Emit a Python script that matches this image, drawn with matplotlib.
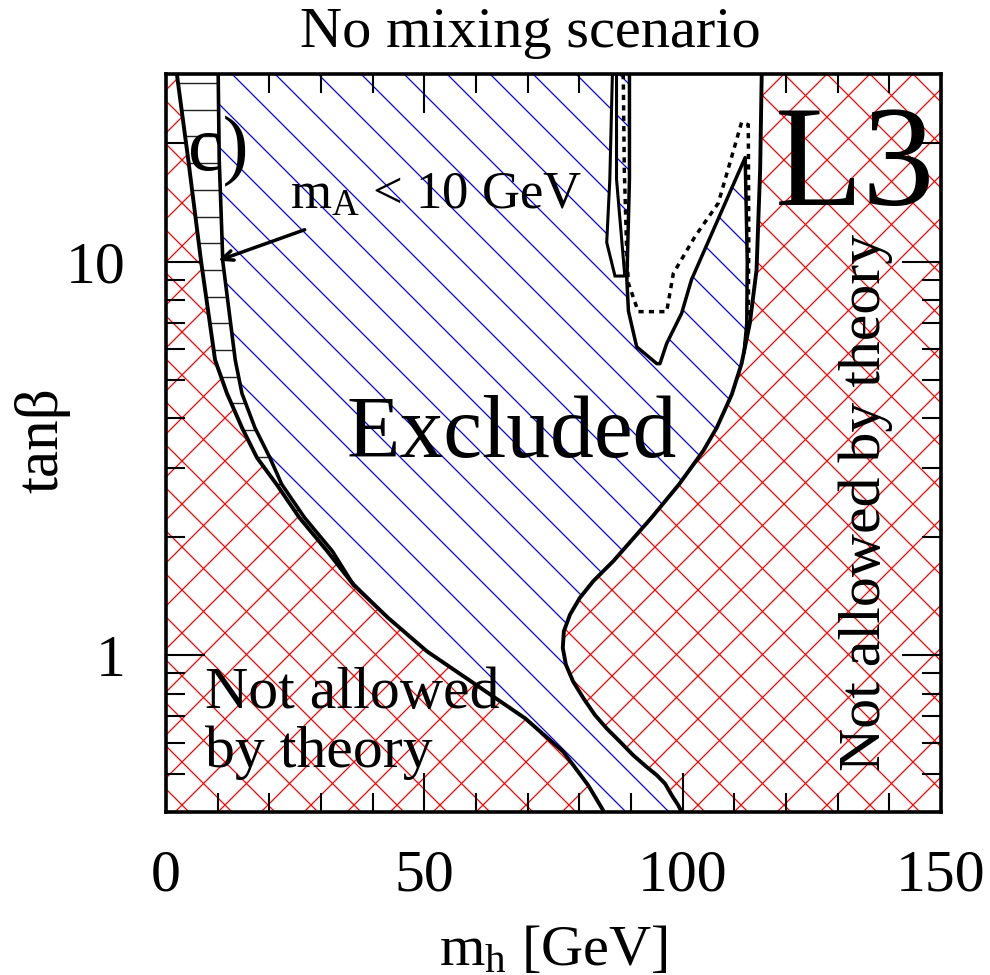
import numpy as np
import matplotlib
matplotlib.use('Agg')
import matplotlib.pyplot as plt
from matplotlib.collections import LineCollection
from matplotlib.patches import Polygon
from matplotlib.ticker import NullFormatter

plt.rcParams['font.family'] = ['Liberation Serif', 'DejaVu Serif']
plt.rcParams['mathtext.fontset'] = 'custom'
plt.rcParams['mathtext.rm'] = 'Liberation Serif'

# left theory boundary (outer edge of the m_A < 10 GeV band), m_h [GeV] vs tan(beta)
left_mh = [2.1, 4.3, 6.8, 9.5, 11.8, 14.7, 17.6, 21.4, 25.8, 31.2, 36.3,
           43.0, 50.5, 60.0, 69.5, 76.9, 81.7, 84.8]
left_tb = [30, 18.2, 10.0, 5.63, 4.63, 3.79, 3.18, 2.72, 2.24, 1.84, 1.51,
           1.245, 1.024, 0.842, 0.692, 0.569, 0.468, 0.4]

# inner edge of the m_A < 10 GeV band
band_mh = [10.1, 10.3, 11.0, 13.4, 14.7, 17.2, 20.1, 22.4, 26.8, 32.2, 36.3]
band_tb = [30, 18.2, 10.0, 5.63, 4.63, 3.79, 3.18, 2.72, 2.24, 1.84, 1.51]

# right theory boundary
right_mh = [99.8, 99.15, 97.9, 96.6, 95.0, 93.0, 90.4, 87.9, 85.3, 83.0, 80.8,
            78.8, 77.4, 76.8, 77.0, 78.2, 80.1, 82.7, 86.6, 94.0,
            99.3, 104.0, 106.6, 109.5, 111.4, 113.0, 114.3, 115.0, 115.3]
right_tb = [0.4, 0.416, 0.441, 0.472, 0.496, 0.521, 0.558, 0.603, 0.652, 0.706, 0.778,
            0.858, 0.947, 1.044, 1.151, 1.27, 1.40, 1.544, 1.737, 2.24,
            2.72, 3.31, 3.79, 4.6, 5.51, 6.98, 9.54, 17.2, 30]

# observed limit: edge of the allowed island at high tan(beta)
island_mh = [89.7, 89.7, 89.2, 89.5, 91.1, 95.0, 95.6, 96.9, 99.8, 101.7,
             112.1, 112.5, 112.4, 111.9]
island_tb = [30, 16.2, 9.0, 7.5, 6.08, 5.51, 5.51, 6.2, 7.4, 9.0,
             18.4, 10.0, 6.98, 5.9]

# narrow allowed finger left of the island
finger_mh = [86.4, 85.9, 85.3, 86.9, 88.8, 87.2, 87.2]
finger_tb = [30, 16.2, 11.2, 9.2, 9.2, 16.2, 30]

# expected limit (dashed)
dash_mh = [88.5, 88.7, 89.2, 89.5, 91.4, 96.9, 98.2, 102.4, 106.9, 111.4,
           112.7, 112.8, 112.7, 112.0]
dash_tb = [30, 17.2, 10.3, 8.82, 7.47, 7.47, 9.35, 11.6, 14.1, 22.6,
           22.3, 11.6, 6.98, 6.1]

x_ticks = [0, 50, 100, 150]
x_minor = np.arange(0, 151, 10)
y_ticks = [1, 10]
y_ticklabels = ['1', '10']
y_minor = [0.4, 0.5, 0.6, 0.7, 0.8, 0.9, 2, 3, 4, 5, 6, 7, 8, 9, 20, 30]

fig = plt.figure(figsize=(9.9, 9.75), dpi=100)
ax_pos = [166 / 990, 163 / 975, 775 / 990, 738 / 975]
ax = fig.add_axes(ax_pos)
ax.set_xlim(0, 150)
ax.set_yscale('log')
ax.set_ylim(0.4, 30)

ax_w = fig.get_figwidth() * fig.dpi * ax_pos[2]
ax_h = fig.get_figheight() * fig.dpi * ax_pos[3]


def hatch_lines(kind, spacing, offset):
    # line segments in axes fraction, spacing given in pixels
    segs = []
    if kind == '-':
        for y in np.arange(offset, ax_h, spacing):
            segs.append([(0, y / ax_h), (1, y / ax_h)])
    elif kind == '\\':
        for c in np.arange(offset, ax_w + ax_h, spacing):
            segs.append([(c / ax_w, 0), ((c - ax_h) / ax_w, 1)])
    else:
        start = offset - spacing * np.ceil((offset + ax_w) / spacing)
        for c in np.arange(start, ax_h, spacing):
            segs.append([(-c / ax_w, 0), ((ax_h - c) / ax_w, 1)])
    return segs


def add_hatch(poly, kind, spacing, offset, color, lw, z):
    lc = LineCollection(hatch_lines(kind, spacing, offset), colors=color,
                        linewidths=lw, transform=ax.transAxes, zorder=z)
    ax.add_collection(lc, autolim=False)
    lc.set_clip_path(poly)


top, bot = 40, 0.3
left_pts = list(zip(left_mh, left_tb))
band_pts = list(zip(band_mh, band_tb))
right_pts = list(zip(right_mh, right_tb))
merge_tb = band_tb[-1]

red_left = [(-5, bot), (-5, top), (left_mh[0], top)] + left_pts + [(left_mh[-1], bot)]
red_right = right_pts + [(right_mh[-1], top), (155, top), (155, bot), (right_mh[0], bot)]
allowed = ([(band_mh[0], top)] + band_pts + [p for p in left_pts if p[1] < merge_tb]
           + [(left_mh[-1], bot), (right_mh[0], bot)] + right_pts + [(right_mh[-1], top)])
band_poly = ([(left_mh[0], top)] + [p for p in left_pts if p[1] >= merge_tb]
             + band_pts[::-1] + [(band_mh[0], top)])
island_poly = (list(zip(island_mh, island_tb))
               + [p for p in right_pts if p[1] > island_tb[-1]]
               + [(right_mh[-1], top), (island_mh[0], top)])

# not allowed by theory: red cross hatch
for pts in (red_left, red_right):
    clip = Polygon(pts, closed=True, facecolor='none', edgecolor='none')
    ax.add_patch(clip)
    add_hatch(clip, '/', 43, 34, '#ff0000', 0.9, 1)
    add_hatch(clip, '\\', 43, 23, '#ff0000', 0.9, 1)

# excluded: blue hatch
clip = Polygon(allowed, closed=True, facecolor='none', edgecolor='none')
ax.add_patch(clip)
add_hatch(clip, '\\', 43, 30, '#0000ff', 0.9, 1)

# m_A < 10 GeV band
band_patch = Polygon(band_poly, closed=True, facecolor='white', edgecolor='none', zorder=2)
ax.add_patch(band_patch)
add_hatch(band_patch, '-', 26.7, 8, '#222222', 1.0, 2.1)

# allowed islands
ax.add_patch(Polygon(island_poly, closed=True, facecolor='white', edgecolor='none', zorder=2))
ax.add_patch(Polygon(list(zip(finger_mh, finger_tb)), closed=True, facecolor='white',
                     edgecolor='black', linewidth=2.2, zorder=3))

ax.plot(left_mh, left_tb, color='black', lw=2.8, zorder=3, solid_joinstyle='round')
ax.plot(band_mh, band_tb, color='black', lw=2.6, zorder=3, solid_joinstyle='round')
ax.plot(right_mh, right_tb, color='black', lw=2.8, zorder=3, solid_joinstyle='round')
ax.plot(island_mh, island_tb, color='black', lw=2.5, zorder=3)
ax.plot(dash_mh, dash_tb, color='black', lw=2.5, linestyle=(0, (1.5, 1.5)), zorder=3)

ax.set_xticks(x_ticks)
ax.set_xticks(x_minor, minor=True)
ax.set_yticks(y_ticks)
ax.set_yticklabels(y_ticklabels)
ax.set_yticks(y_minor, minor=True)
ax.yaxis.set_minor_formatter(NullFormatter())
ax.tick_params(which='both', direction='in', top=True, right=True, width=1.5, color='black')
ax.tick_params(which='major', length=28, labelsize=43)
ax.tick_params(which='minor', length=14)
ax.tick_params(axis='x', which='major', pad=27)
ax.tick_params(axis='y', which='major', pad=29)
for sp in ax.spines.values():
    sp.set_linewidth(2.6)
    sp.set_zorder(6)

ax.set_xlabel(r'$\mathregular{m_h}$ [GeV]', fontsize=42)
ax.xaxis.set_label_coords(0.5, -0.153)
ax.set_ylabel('tanβ', fontsize=44)
ax.yaxis.set_label_coords(-0.124, 0.504)

fig.text(0.5354, 0.9518, 'No mixing scenario', fontsize=42, ha='center', va='baseline')

ax.text(0.028, 0.87, 'c)', fontsize=56, transform=ax.transAxes, va='baseline', zorder=5)
ax.text(0.16, 0.818, r'$\mathregular{m_A}$ < 10 GeV', fontsize=38,
        transform=ax.transAxes, va='baseline', zorder=5)
ax.annotate('', xy=(0.067, 0.747), xytext=(0.179, 0.789),
            xycoords='axes fraction', textcoords='axes fraction', zorder=5,
            arrowprops=dict(arrowstyle='->,head_length=0.8,head_width=0.35',
                            lw=2.5, color='black', shrinkA=0, shrinkB=0))
ax.text(0.4465, 0.481, 'Excluded', fontsize=63, transform=ax.transAxes,
        ha='center', va='baseline', zorder=5)
ax.text(0.889, 0.8225, 'L3', fontsize=104, transform=ax.transAxes,
        ha='center', va='baseline', zorder=5)
ax.text(0.0503, 0.141, 'Not allowed', fontsize=43, transform=ax.transAxes,
        va='baseline', zorder=5)
ax.text(0.0503, 0.061, 'by theory', fontsize=43, transform=ax.transAxes,
        va='baseline', zorder=5)
ax.text(0.903, 0.42, 'Not allowed by theory', fontsize=43, rotation=90,
        transform=ax.transAxes, ha='center', va='center', zorder=5)

plt.savefig('out.png', dpi=fig.dpi)
